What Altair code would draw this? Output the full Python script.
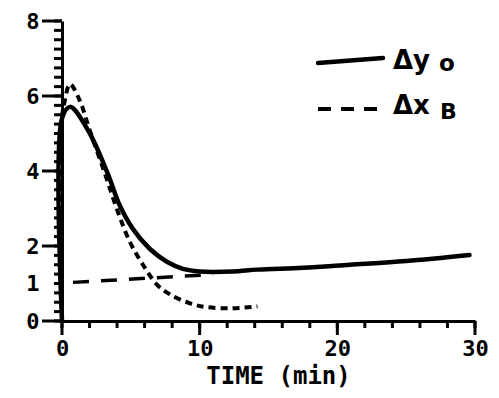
import altair as alt
import pandas as pd

# ---- data ----
time_y0 = [0, 0, 0.58, 1.9, 3.3, 4.2, 5.16, 6.39, 7.62, 8.79, 10.0, 12.4, 14.2, 17.5, 20.9, 25.0, 29.6]
val_y0 = [0, 5.4, 5.71, 5.08, 3.95, 3.08, 2.45, 1.92, 1.58, 1.39, 1.32, 1.32, 1.37, 1.42, 1.50, 1.60, 1.76]

time_xb = [0, 0, 0.2, 0.58, 1.3, 2.0, 3.1, 4.07, 4.94, 5.88, 6.9, 7.84, 9.3, 10.5, 12.4, 14.2]
val_xb = [0, 5.4, 5.87, 6.32, 5.87, 5.1, 3.95, 2.9, 2.1, 1.5, 0.97, 0.71, 0.47, 0.37, 0.34, 0.39]

time_ref = [0.8, 10.97]
val_ref = [1.03, 1.24]

x_labels = [0, 10, 20, 30]
x_minor = list(range(0, 31, 2))
y_labels = [0, 1, 2, 4, 6, 8]
y_major = [0, 2, 4, 6, 8]
y_minor = [i * 0.25 for i in range(33)]

legend_main = ["Δy", "Δx"]
legend_sub = ["o", "B"]

# ---- tables ----
df_xb = pd.DataFrame({"t": time_xb, "v": val_xb, "i": range(len(time_xb))})
df_y0 = pd.DataFrame({"t": time_y0, "v": val_y0, "i": range(len(time_y0))})
df_ref = pd.DataFrame({"t": time_ref, "v": val_ref})

LABEL_FONT = "DejaVu Sans Mono"
H = 300

xscale = alt.Scale(domain=[0, 30], nice=False, zero=False)
yscale = alt.Scale(domain=[0, 8], nice=False)

x_axis = alt.Axis(
    values=x_labels,
    ticks=False,
    tickSize=0,
    labelOverlap=False,
    labelFlush=False,
    labelPadding=17,
    labelFont=LABEL_FONT,
    labelFontSize=22,
    labelFontWeight="bold",
    labelColor="black",
    domainColor="black",
    domainWidth=3,
    grid=False,
    title="TIME (min)",
    titleFont=LABEL_FONT,
    titleFontSize=24,
    titleFontWeight="bold",
    titleColor="black",
    titlePadding=5,
    titleX=216,
    titleAlign="center",
)

y_axis = alt.Axis(
    values=y_labels,
    ticks=False,
    tickSize=0,
    labelOverlap=False,
    labelFlush=False,
    labelPadding=23,
    labelFont=LABEL_FONT,
    labelFontSize=22,
    labelFontWeight="bold",
    labelColor="black",
    domainColor="black",
    domainWidth=3,
    grid=False,
    title=None,
    minExtent=49,
)

dashed = alt.Chart(df_xb).mark_line(
    color="black", strokeWidth=4, strokeDash=[7, 5], interpolate="catmull-rom", strokeCap="butt"
).encode(
    x=alt.X("t:Q", scale=xscale, axis=x_axis),
    y=alt.Y("v:Q", scale=yscale, axis=y_axis),
    order="i:Q",
)

solid = alt.Chart(df_y0).mark_line(
    color="black", strokeWidth=4.5, interpolate="catmull-rom", strokeCap="round", strokeJoin="round"
).encode(
    x=alt.X("t:Q", scale=xscale),
    y=alt.Y("v:Q", scale=yscale),
    order="i:Q",
)

ref = alt.Chart(df_ref).mark_line(
    color="black", strokeWidth=3.5, strokeDash=[16, 12]
).encode(
    x=alt.X("t:Q", scale=xscale),
    y=alt.Y("v:Q", scale=yscale),
)

# ---- tick marks drawn through the scales ----
def yticks(vals, length):
    return alt.Chart(pd.DataFrame({"v": vals})).mark_rule(color="black", strokeWidth=3).encode(
        y=alt.Y("v:Q", scale=yscale), x=alt.value(-length), x2=alt.value(0)
    )

def xticks(vals, length):
    return alt.Chart(pd.DataFrame({"t": vals})).mark_rule(color="black", strokeWidth=3).encode(
        x=alt.X("t:Q", scale=xscale), y=alt.value(H), y2=alt.value(H + length)
    )

tick_layers = [yticks(y_minor, 8), yticks(y_major, 20), xticks(x_minor, 7), xticks(x_labels, 14)]

# ---- hand-drawn style legend ----
one = pd.DataFrame({"k": [0]})

leg_solid = alt.Chart(one).mark_rule(color="black", strokeWidth=4.5, strokeCap="round").encode(
    x=alt.value(256), x2=alt.value(321), y=alt.value(42), y2=alt.value(37)
)
leg_dash = alt.Chart(one).mark_rule(color="black", strokeWidth=4, strokeDash=[13, 10]).encode(
    x=alt.value(256), x2=alt.value(321), y=alt.value(88), y2=alt.value(88)
)

def txt(s, x, y, size):
    return alt.Chart(one).mark_text(
        text=s, font="DejaVu Sans", fontWeight="bold", fontSize=size,
        align="left", baseline="alphabetic", color="black"
    ).encode(x=alt.value(x), y=alt.value(y))

legend_layers = [
    leg_solid, leg_dash,
    txt(legend_main[0], 331, 48, 26), txt(legend_sub[0], 377, 50, 23),
    txt(legend_main[1], 331, 93, 26), txt(legend_sub[1], 378, 98, 22),
]

chart = alt.layer(dashed, ref, solid, *tick_layers, *legend_layers).properties(
    width=413, height=H, padding={"left": 5, "top": 2, "right": 0, "bottom": 0}
).configure_view(strokeWidth=0)

chart.save("out.html", embed_options={"renderer": "svg", "actions": False})
